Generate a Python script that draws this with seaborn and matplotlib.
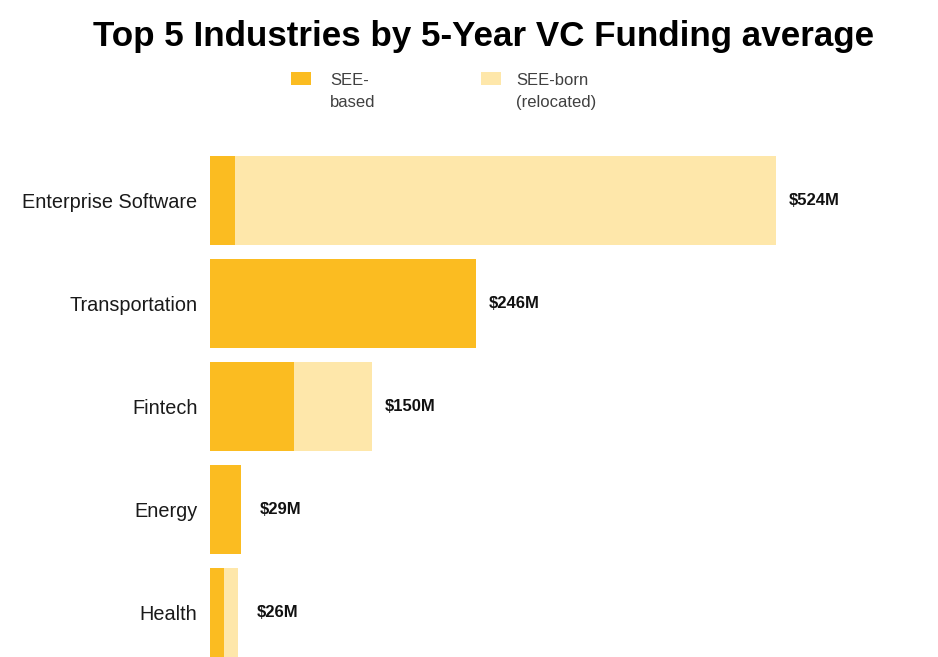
import matplotlib
matplotlib.use("Agg")
import matplotlib.pyplot as plt
from matplotlib.patches import Rectangle
import seaborn as sns
import pandas as pd

industries = ["Enterprise Software", "Transportation", "Fintech", "Energy", "Health"]
see_based = [23, 246, 78, 29, 13]
see_born = [501, 0, 72, 0, 13]
totals = [b + r for b, r in zip(see_based, see_born)]
total_labels = ["$524M", "$246M", "$150M", "$29M", "$26M"]

based_color = "#FBBC21"
born_color = "#FEE7AA"

df = pd.DataFrame({"industry": industries, "based": see_based, "total": totals})

sns.set_theme(style="white")
plt.rcParams["font.family"] = ["Liberation Sans", "DejaVu Sans"]

fig = plt.figure(figsize=(9.38, 6.57), dpi=100)
ax = fig.add_axes([0.224, 0.0, 0.776, 0.787])

# light bar for the full total, dark bar for the SEE-based part on top
sns.barplot(data=df, x="total", y="industry", orient="h", color=born_color,
            width=0.86, saturation=1, linewidth=0, ax=ax)
sns.barplot(data=df, x="based", y="industry", orient="h", color=based_color,
            width=0.86, saturation=1, linewidth=0, ax=ax)

for i, (t, lab) in enumerate(zip(totals, total_labels)):
    off = 9 if t > 100 else 13
    ax.annotate(lab, xy=(t, i), xytext=(off, 0), textcoords="offset points",
                ha="left", va="center", fontsize=12, fontweight="bold",
                color="#111111")

ax.set_xlim(0, 674)
ax.set_ylim(4.43, -0.59)
ax.set_xlabel("")
ax.set_ylabel("")
ax.set_xticks([])
ax.tick_params(axis="y", length=0, pad=9, labelsize=14.3, labelcolor="#1a1a1a")
sns.despine(ax=ax, left=True, bottom=True)

fig.text(0.516, 0.945, "Top 5 Industries by 5-Year VC Funding average",
         ha="center", va="center", fontsize=25.2, fontweight="bold", color="black")

# legend drawn by hand so the swatch sits on the first text line
legend_items = [(291, 330, based_color, "SEE-\nbased"),
                (481, 516, born_color, "SEE-born\n(relocated)")]
for x0, tx, c, txt in legend_items:
    fig.add_artist(Rectangle((x0 / 938, 1 - 85 / 657), 20 / 938, 13 / 657,
                             transform=fig.transFigure, color=c, lw=0))
    fig.text(tx / 938, 1 - 73 / 657, txt, ha="left", va="top",
             fontsize=12, color="#404040", linespacing=1.55)

fig.savefig("out.png", dpi=100, facecolor="white")
